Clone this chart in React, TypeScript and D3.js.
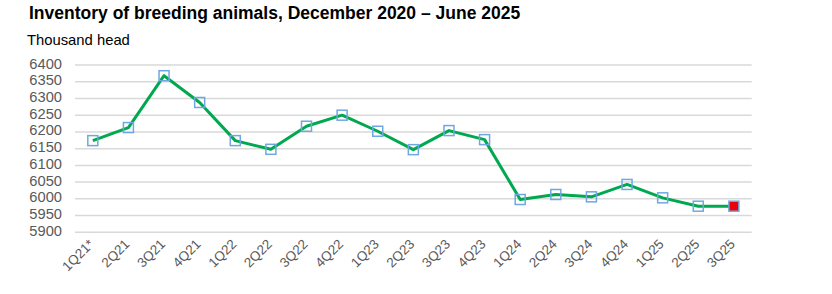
import React from "react";
import * as d3 from "d3";

const categories = ["1Q21*","2Q21","3Q21","4Q21","1Q22","2Q22","3Q22","4Q22","1Q23","2Q23","3Q23","4Q23","1Q24","2Q24","3Q24","4Q24","1Q25","2Q25","3Q25"];
const values = [6174, 6213, 6368, 6288, 6174, 6148, 6217, 6250, 6202, 6147, 6204, 6177, 5998, 6013, 6006, 6043, 6003, 5978, 5978];
const yTicks = [5900, 5950, 6000, 6050, 6100, 6150, 6200, 6250, 6300, 6350, 6400];

export default function App() {
  const W = 832, H = 294;
  const x = d3.scaleBand<string>().domain(categories).range([75, 751.7]);
  const y = d3.scaleLinear().domain([5900, 6400]).range([232.3, 65]);
  const cx = (c: string) => (x(c) as number) + x.bandwidth() / 2;
  const line = d3.line<number>().x((_, i) => cx(categories[i])).y((v) => y(v));
  const font = "'Liberation Sans', Arial, sans-serif";
  const last = values.length - 1;
  return (
    <svg width={W} height={H} style={{ position: "absolute", left: 0, top: 0, background: "#fff" }} fontFamily={font}>
      <text x={29} y={18.5} fontSize={17.5} fontWeight="bold" fill="#000">Inventory of breeding animals, December 2020 – June 2025</text>
      <text x={27} y={45} fontSize={14.8} fill="#000">Thousand head</text>
      {yTicks.map((t) => (
        <g key={t}>
          <line x1={75} x2={751.7} y1={y(t)} y2={y(t)} stroke="#d9d9d9" strokeWidth={1.5} />
          <text x={62} y={y(t) + 3.5} textAnchor="end" fontSize={14.7} fill="#595959">{t}</text>
        </g>
      ))}
      {categories.map((c) => (
        <text key={c} transform={`translate(${cx(c) + 2},${245}) rotate(-45)`} textAnchor="end" fontSize={13.5} fill="#595959">{c}</text>
      ))}
      <path d={line(values) as string} fill="none" stroke="#00a84f" strokeWidth={3} strokeLinejoin="round" />
      {values.map((v, i) => (
        <rect key={i} x={cx(categories[i]) - 5} y={y(v) - 5} width={10} height={10}
          fill={i === last ? "#e8000b" : "none"} stroke="#6fa8e0" strokeWidth={1.5} />
      ))}
    </svg>
  );
}
